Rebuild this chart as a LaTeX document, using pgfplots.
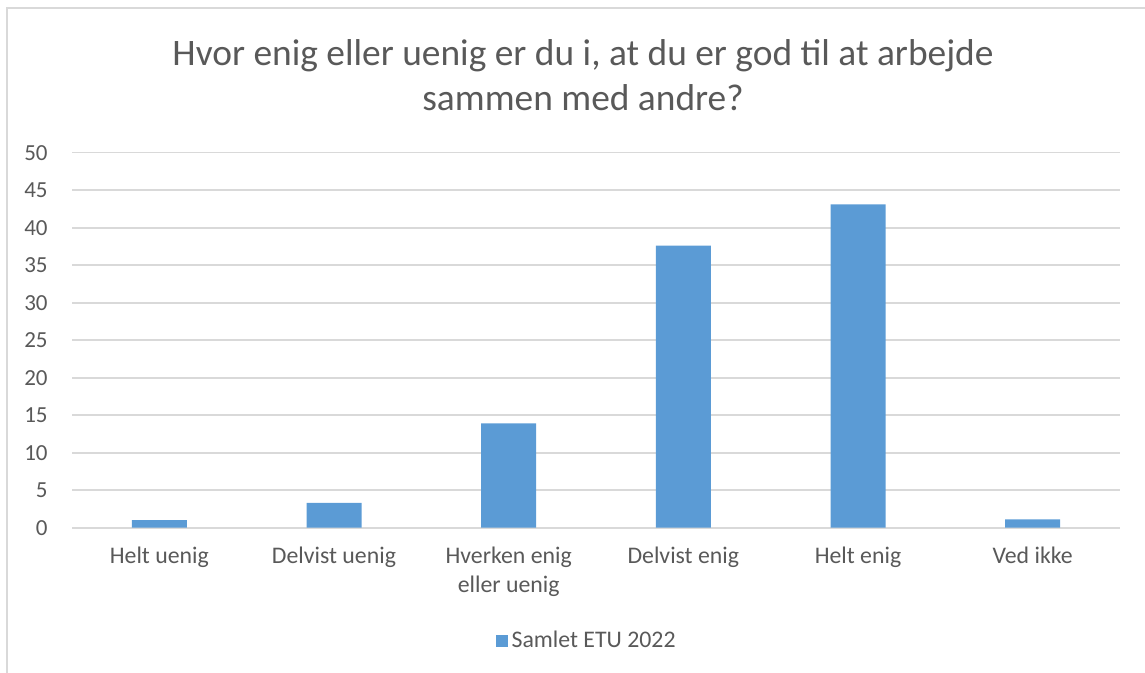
\documentclass[border=0pt]{standalone}
\usepackage{fontspec}
\setmainfont{Carlito}
\usepackage{pgfplots}
\pgfplotsset{compat=1.18}
\definecolor{barblue}{HTML}{5B9BD5}
\definecolor{txtgray}{HTML}{595959}
\definecolor{gridgray}{HTML}{D9D9D9}
\begin{document}
\begin{tikzpicture}
\begin{scope}[x=0.5pt,y=-0.5pt]
\path[use as bounding box] (0,0) rectangle (1145,673);
\draw[gridgray, line width=0.8pt] (7,673) -- (7,8) -- (1145,8);
\node[txtgray, align=center, font=\fontsize{18.7}{22.5}\selectfont] at (583,75) {Hvor enig eller uenig er du i, at du er god til at arbejde\\sammen med andre?};
\end{scope}
\begin{axis}[
  at={(36pt,-263.85pt)}, anchor=south west,
  scale only axis, width=524pt, height=187.5pt,
  xmin=-0.5, xmax=5.5, ymin=0, ymax=50,
  ytick={0,5,...,50},
  xtick={0,1,2,3,4,5},
  xticklabels={Helt uenig, Delvist uenig, {Hverken enig\\eller uenig}, Delvist enig, Helt enig, Ved ikke},
  xticklabel style={align=center, font=\fontsize{11.9}{14.5}\selectfont, text=txtgray, anchor=north, inner sep=0pt, yshift=-9.5pt},
  yticklabel style={font=\fontsize{11.5}{13}\selectfont, text=txtgray, anchor=east, inner sep=0pt, xshift=-12pt},
  /pgf/number format/assume math mode=true,
  major tick length=0pt,
  axis x line*=bottom,
  axis y line*=left,
  y axis line style={draw=none},
  x axis line style={gridgray, line width=0.8pt},
  ymajorgrids,
  grid style={gridgray, line width=0.8pt},
  ybar, bar width=27.5pt,
  legend style={at={(0.4924,-0.302)}, anchor=center, draw=none, fill=none, font=\fontsize{11.9}{13}\selectfont, text=txtgray, inner sep=0pt},
  legend image code/.code={\fill[barblue] (0pt,-2.8pt) rectangle (5.6pt,2.8pt);},
]
\addplot[fill=barblue, draw=none] coordinates {(0,1.0) (1,3.3) (2,13.9) (3,37.6) (4,43.1) (5,1.1)};
\addlegendentry{Samlet ETU 2022}
\end{axis}
\end{tikzpicture}
\end{document}
